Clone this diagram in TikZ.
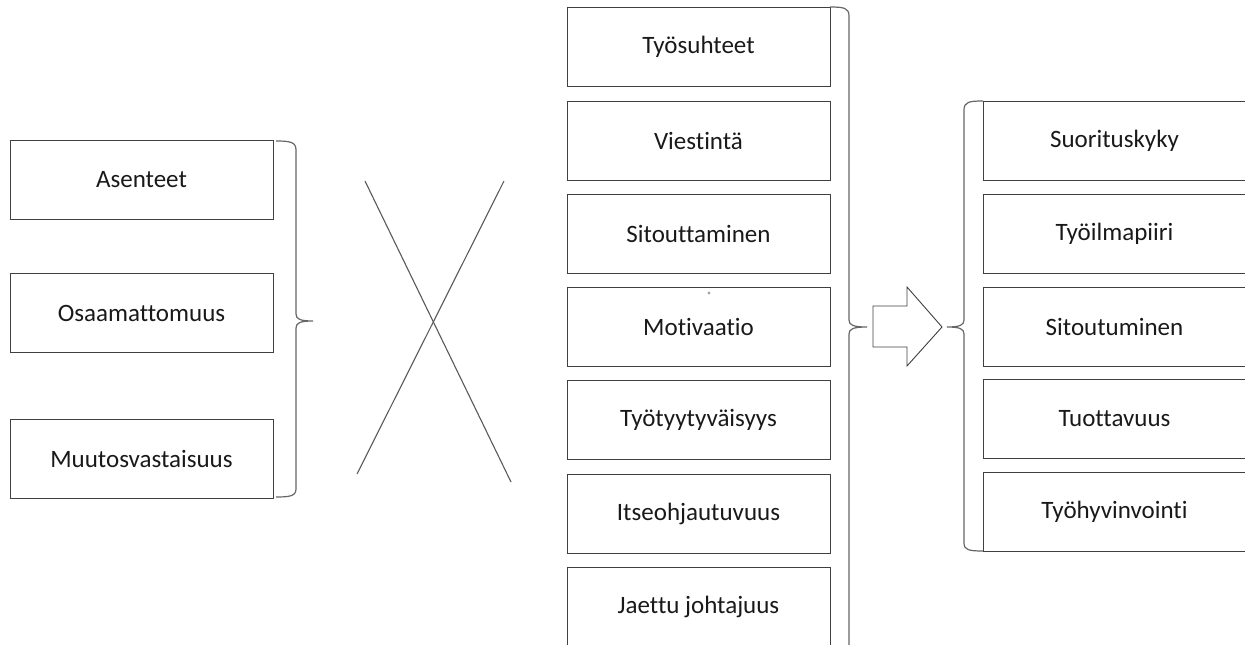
\documentclass[tikz,border=0pt]{standalone}
\usepackage{fontspec}
\setmainfont{Carlito}[Ligatures={NoCommon,NoRare}]
\begin{document}
\begin{tikzpicture}[x=1pt,y=-1pt,
  box/.style={draw=black!75,line width=0.9pt,minimum width=263pt,minimum height=79pt,inner sep=0pt,font=\fontsize{25}{28}\selectfont,text=black!90},
  brace/.style={draw=black!60,line width=1.2pt},
  xline/.style={draw=black!65,line width=1.1pt}]
\useasboundingbox (0,0) rectangle (1245,645);
% left column
\node[box] (a1) at (141.5,179.5) {Asenteet};
\node[box] (a2) at (141.5,313) {Osaamattomuus};
\node[box] (a3) at (141.5,458.5) {Muutosvastaisuus};
% middle column
\node[box] (m1) at (698.5,47) {Työsuhteet};
\node[box] (m2) at (698.5,140.5) {Viestintä};
\node[box] (m3) at (698.5,233.5) {Sitouttaminen};
\node[box] (m4) at (698.5,326.5) {Motivaatio};
\node[box] (m5) at (698.5,420) {Työtyytyväisyys};
\node[box] (m6) at (698.5,513.5) {Itseohjautuvuus};
\node[box] (m7) at (698.5,607) {Jaettu johtajuus};
% right column
\node[box] (r1) at (1114.5,140.5) {Suorituskyky};
\node[box] (r2) at (1114.5,233.5) {Työilmapiiri};
\node[box] (r3) at (1114.5,327) {Sitoutuminen};
\node[box] (r4) at (1114.5,419) {Tuottavuus};
\node[box] (r5) at (1114.5,512) {Työhyvinvointi};
% small dot
\fill[black!35] (709,293) circle (1.6pt);
% X
\draw[xline] (365,181) -- (511,482);
\draw[xline] (504,181) -- (357,474);
% left brace
\draw[brace] (276,141) .. controls (290,141) and (296,142) .. (296,150) -- (296,314)
  .. controls (296,319) and (300,321) .. (313,321)
  .. controls (300,321) and (296,323) .. (296,328) -- (296,489)
  .. controls (296,496) and (290,497) .. (276,497);
% middle brace
\draw[brace] (830,7) .. controls (844,7) and (849,8) .. (849,16) -- (849,320)
  .. controls (849,325) and (853,327) .. (867,327)
  .. controls (853,327) and (849,329) .. (849,334) -- (849,660);
% arrow
\draw[draw=black!75,line width=0.9pt,fill=white] (873,306) -- (907,306) -- (907,287) -- (942,327) -- (907,366) -- (907,347) -- (873,347) -- cycle;
% right brace
\draw[brace] (983,101) .. controls (969,101) and (964,102) .. (964,110) -- (964,320)
  .. controls (964,325) and (960,327) .. (947,327)
  .. controls (960,327) and (964,329) .. (964,334) -- (964,543)
  .. controls (964,550) and (969,551) .. (983,551);
\end{tikzpicture}
\end{document}
